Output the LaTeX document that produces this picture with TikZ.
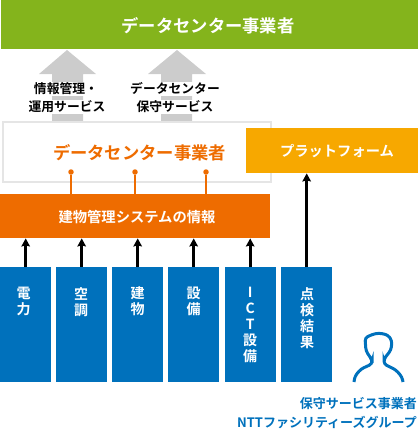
\documentclass[tikz,border=0pt]{standalone}
\usepackage{fontspec}
\setmainfont{Noto Sans CJK JP}[BoldFont={Noto Sans CJK JP Bold}]
\usetikzlibrary{arrows.meta}
\definecolor{dcgreen}{HTML}{84B41C}
\definecolor{dcorange}{HTML}{EE6C00}
\definecolor{dcyellow}{HTML}{F7A800}
\definecolor{dcblue}{HTML}{0071BC}
\definecolor{dcgrey}{HTML}{CCCCCC}
\tikzset{
  barbox/.style={rectangle, inner sep=0pt, anchor=north west},
  barlabel/.style={inner sep=0pt, text=white, font=\bfseries\fontsize{14.3}{16}\selectfont},
  biglabel/.style={inner sep=0pt, font=\bfseries\fontsize{17.3}{20}\selectfont},
  bluebox/.style={rectangle, fill=dcblue, anchor=north west, minimum width=51pt, minimum height=115pt, inner sep=0pt},
  bluetext/.style={anchor=north, align=center, text=white, inner sep=0pt, font=\bfseries\fontsize{14}{16}\selectfont},
  svctext/.style={fill=white, inner xsep=1pt, inner ysep=0pt, text height=11.5pt, text depth=2pt, text=black, font=\bfseries\fontsize{12.8}{14}\selectfont},
  pindot/.style={circle, fill=dcorange, minimum size=5.5pt, inner sep=0pt},
  pinline/.style={draw=dcorange, line width=1.3pt},
  upline/.style={line width=2.6pt, -{Stealth[length=8pt,width=8.5pt,inset=1pt]}},
  grouplabel/.style={anchor=east, text=dcblue, inner sep=0pt, font=\bfseries\fontsize{13}{14}\selectfont}
}
\begin{document}
\begin{tikzpicture}[x=1pt, y=-1pt]
  \useasboundingbox (0,0) rectangle (418,429);
  % top bar
  \node[barbox, fill=dcgreen, minimum width=417pt, minimum height=49pt] (dctop) at (1,0) {};
  \node[biglabel, text=white] (toplabel) at (208,26) {データセンター事業者};

  % grey arrows
  \fill[dcgrey] (67,50) -- (96,74) -- (83,74) -- (83,121) -- (52,121) -- (52,74) -- (39,74) -- cycle;
  \fill[dcgrey] (177,50) -- (206,74) -- (192,74) -- (192,121) -- (161,121) -- (161,74) -- (148,74) -- cycle;
  \node[svctext] (svcaa) at (66,89) {情報管理・};
  \node[svctext] (svcab) at (67,107) {運用サービス};
  \node[svctext] (svcba) at (175,89) {データセンター};
  \node[svctext] (svcbb) at (175,107) {保守サービス};

  % white box
  \node[barbox, draw=black!10, line width=1.5pt, fill=white, minimum width=268pt, minimum height=60pt] (dcbox) at (2,121) {};
  \node[biglabel, text=dcorange] (dclabel) at (139.5,153) {データセンター事業者};

  % orange bar
  \node[barbox, fill=dcorange, minimum width=270pt, minimum height=44pt] (bms) at (0,194) {};
  \node[barlabel] (bmslabel) at (137,217.5) {建物管理システムの情報};
  \foreach \p/\x in {pina/71,pinb/135,pinc/206} {
    \node[pindot] (\p) at (\x,172) {};
    \draw[pinline] (\p) -- (\p |- bms.north);
  }

  % platform
  \node[barbox, fill=dcyellow, minimum width=172pt, minimum height=45pt] (plat) at (246,128) {};
  \node[barlabel] (platlabel) at (337,151.5) {プラットフォーム};

  % blue boxes
  \foreach \n/\x/\s/\t in {denryoku/0/-2/電\\力, kucho/56/-0.5/空\\調, tatemono/112/0/建\\物, setsubi/168/0/設\\備, ict/224.5/0/I\\C\\T\\設\\備, tenken/281/0.5/点\\検\\結\\果} {
    \node[bluebox] (\n) at (\x,267) {};
    \node[bluetext] (\n text) at ([xshift=\s pt, yshift=-20pt]\n.north) {\t};
  }
  \foreach \n in {denryoku,kucho,tatemono,setsubi,ict}
    \draw[upline] (\n.north) -- (\n.north |- bms.south);
  \draw[upline] (tenken.north) -- (tenken.north |- plat.south);

  % person
  \draw[dcblue, line width=3pt, rounded corners=3pt] (354,382) -- (355,376) -- (361,369) -- (372,364) -- (372,360)
    -- (366,351) -- (365,338) -- (372,334.5) -- (379,333) -- (388,335) -- (392,341) -- (391,350) -- (384,359) -- (384,364)
    -- (396,370) -- (402,377) -- (403,382);

  % group name
  \node[grouplabel] (hoshu) at (417,404) {保守サービス事業者};
  \node[grouplabel] (ntt) at (417,422) {NTTファシリティーズグループ};
\end{tikzpicture}
\end{document}
